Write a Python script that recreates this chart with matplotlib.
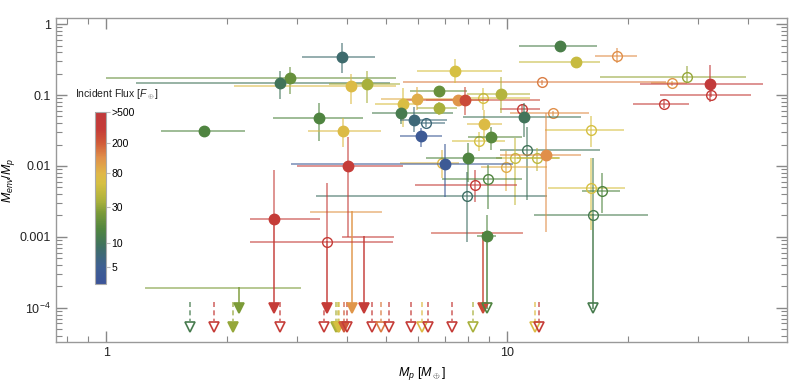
import numpy as np
import matplotlib
matplotlib.use("Agg")
import matplotlib.pyplot as plt
from matplotlib.colors import LinearSegmentedColormap, LogNorm
from matplotlib.ticker import FixedLocator, FuncFormatter, NullFormatter
import matplotlib.colorbar as mcolorbar

plt.rcParams['font.family'] = ['Liberation Sans', 'DejaVu Sans']
plt.rcParams['mathtext.fontset'] = 'custom'
plt.rcParams['mathtext.rm'] = 'Liberation Sans'
plt.rcParams['mathtext.it'] = 'Liberation Sans:italic'

# detections (filled circles)
det_m = [1.75, 2.88, 2.71, 3.87, 4.08, 4.47, 7.43, 6.76, 9.66, 5.49, 5.96, 7.56, 7.86,
         6.78, 5.43, 5.86, 3.40, 3.90, 6.10, 8.78, 9.11, 11.03, 13.56, 14.89, 32.17,
         12.49, 8.00, 4.02, 7.00, 2.63, 8.90]
det_m_lo = [1.37, 1.00, 1.19, 3.09, 2.08, 3.60, 5.95, 5.73, 7.93, 4.70, 4.84, 6.30, 5.59,
            5.95, 4.60, 5.41, 2.61, 3.19, 5.41, 7.93, 8.00, 7.77, 10.73, 10.73, 21.47,
            9.60, 6.30, 3.00, 2.90, 2.28, 8.40]
det_m_hi = [2.22, 5.28, 5.10, 4.68, 5.30, 5.40, 9.70, 7.93, 11.41, 6.10, 7.49, 9.00, 12.10,
            7.49, 7.33, 7.07, 4.38, 4.84, 6.87, 9.70, 10.90, 15.30, 16.80, 17.07, 43.62,
            15.30, 9.70, 5.50, 10.35, 3.41, 9.40]
det_f = [0.0313, 0.175, 0.149, 0.339, 0.135, 0.141, 0.219, 0.1135, 0.105, 0.0752, 0.0867,
         0.0839, 0.0839, 0.0647, 0.0561, 0.0443, 0.0477, 0.031, 0.0266, 0.0389, 0.0257,
         0.0483, 0.494, 0.288, 0.144, 0.0142, 0.013, 0.00993, 0.0106, 0.00176, 0.00103]
det_f_lo = [0.0275, 0.105, 0.0875, 0.202, 0.0744, 0.0769, 0.146, 0.0944, 0.055, 0.0356,
            0.0612, 0.070, 0.0521, 0.0521, 0.0389, 0.0303, 0.0226, 0.0186, 0.0186, 0.0231,
            0.0167, 0.0257, 0.46, 0.27, 0.0802, 0.00118, 0.006, 0.001, 0.00366, 0.00176,
            0.00103]
det_f_hi = [0.0356, 0.25, 0.217, 0.534, 0.197, 0.217, 0.318, 0.131, 0.181, 0.125, 0.131,
            0.10, 0.128, 0.0802, 0.0769, 0.0682, 0.0762, 0.0468, 0.0341, 0.0612, 0.0356,
            0.0769, 0.53, 0.31, 0.264, 0.055, 0.021, 0.0257, 0.0203, 0.00873, 0.002]
det_flux = [15, 20, 10, 8, 70, 35, 60, 20, 40, 65, 90, 120, 250, 35, 12, 7, 15, 70, 4, 70,
            17, 10, 13, 50, 400, 130, 15, 300, 4, 300, 15]

# open circles
opn_m = [6.30, 8.73, 10.88, 12.25, 13.05, 18.82, 16.18, 11.20, 10.47, 11.86, 9.94, 8.50,
         6.87, 8.35, 8.97, 7.96, 16.18, 17.29, 24.61, 25.85, 28.13, 32.36, 3.55, 16.39]
opn_m_lo = [5.90, 8.00, 9.60, 5.50, 10.17, 16.58, 12.44, 9.60, 9.40, 10.60, 8.60, 7.30,
            5.40, 5.90, 6.90, 3.34, 12.66, 15.37, 20.66, 22.90, 17.07, 24.09, 2.28, 11.70]
opn_m_hi = [7.00, 11.40, 12.10, 24.90, 16.05, 21.10, 19.59, 17.07, 13.60, 13.50, 12.60,
            9.90, 7.60, 10.57, 10.90, 12.60, 19.70, 19.14, 28.51, 28.10, 39.42, 40.64,
            5.20, 22.44]
opn_f = [0.0406, 0.0914, 0.0627, 0.152, 0.055, 0.354, 0.0317, 0.0167, 0.0128, 0.0128,
         0.0097, 0.0224, 0.0111, 0.00536, 0.0065, 0.00375, 0.00482, 0.00441, 0.0744,
         0.146, 0.179, 0.0997, 0.000834, 0.00202]
opn_f_lo = [0.035, 0.0612, 0.055, 0.14, 0.05, 0.279, 0.0186, 0.0033, 0.0028, 0.0085,
            0.0045, 0.016, 0.0067, 0.0031, 0.0025, 0.00085, 0.00124, 0.0022, 0.066, 0.135,
            0.146, 0.0944, 0.000834, 0.00202]
opn_f_hi = [0.046, 0.125, 0.072, 0.165, 0.06, 0.454, 0.0504, 0.0356, 0.025, 0.018, 0.016,
            0.03, 0.0167, 0.0087, 0.0103, 0.00826, 0.0128, 0.0079, 0.085, 0.16, 0.261,
            0.117, 0.0057, 0.0128]
opn_flux = [7, 60, 300, 150, 130, 130, 60, 10, 50, 45, 90, 60, 80, 300, 15, 9, 60, 15,
            300, 120, 30, 300, 300, 12]

# upper limits without a marker (horizontal bar + arrow)
lim_m = [2.15, 4.10, 4.40, 8.73]
lim_m_lo = [1.256, 3.24, 3.90, 6.50]
lim_m_hi = [3.04, 4.84, 5.19, 10.90]
lim_f = [0.000187, 0.00225, 0.00098, 0.00115]
lim_flux = [25, 120, 300, 250]

# solid arrows down to 1e-4
arr_m = [2.15, 2.63, 3.55, 4.10, 4.40, 8.73, 8.90, 16.39]
arr_top = [0.000187, 0.00176, 0.000834, 0.00225, 0.00098, 0.00115, 0.00103, 0.00202]
arr_flux = [25, 300, 300, 120, 300, 250, 15, 12]
arr_open = [0, 0, 0, 0, 0, 0, 1, 1]
arr_end = 1.0e-4

# limits below the plotted range (dashed arrows)
dash_m = [1.62, 1.86, 2.07, 2.71, 3.50, 3.74, 3.78, 3.82, 3.93, 4.00, 4.60, 4.84, 5.08,
          5.76, 6.13, 6.34, 7.30, 8.24, 11.73, 12.04]
dash_flux = [12, 300, 30, 300, 300, 35, 45, 60, 200, 300, 300, 150, 300, 300, 70, 300,
             300, 35, 70, 300]
dash_open = [1, 1, 0, 1, 1, 0, 0, 0, 0, 1, 1, 1, 1, 1, 1, 1, 1, 1, 1, 1]
dash_top, dash_bot = 1.21e-4, 5.4e-5

cb_ticks = [5, 10, 30, 80, 200, 500]
cb_labels = ['5', '10', '30', '80', '200', '>500']

cmap = LinearSegmentedColormap.from_list('flux', [
    (0.00, '#3b5499'), (0.10, '#3e5f92'), (0.19, '#3e6b6e'), (0.235, '#41745a'),
    (0.314, '#4f8440'), (0.413, '#7a9a38'), (0.478, '#a8b03c'), (0.584, '#d6c042'),
    (0.64, '#e0b848'), (0.735, '#e0904a'), (0.82, '#d05a38'), (0.90, '#c53c38'),
    (1.00, '#c0393b')])
norm = LogNorm(vmin=3, vmax=500)


def col(fl, a=1.0):
    c = list(cmap(norm(min(fl, 500))))
    c[3] = a
    return tuple(c)


fig = plt.figure(figsize=(7.89, 3.84), dpi=100)
ax = fig.add_axes([0.071, 0.109, 0.9265, 0.845])

ea = 0.55
for m, lo, hi, f, fl in zip(lim_m, lim_m_lo, lim_m_hi, lim_f, lim_flux):
    ax.plot([lo, hi], [f, f], color=col(fl, ea), lw=1.4, zorder=1)

for m, top, fl, op in zip(arr_m, arr_top, arr_flux, arr_open):
    ax.plot([m, m], [top, arr_end], color=col(fl, 0.75), lw=1.4, zorder=1)
    ax.plot(m, arr_end, marker='v', ms=7, color=col(fl),
            mfc='none' if op else col(fl), mew=1.2, zorder=3)

for m, fl, op in zip(dash_m, dash_flux, dash_open):
    ax.plot([m, m], [dash_top, dash_bot * 1.2], color=col(fl, 0.75), lw=1.2,
            ls=(0, (3, 2)), zorder=1)
    ax.plot(m, dash_bot, marker='v', ms=7, color=col(fl),
            mfc='none' if op else col(fl), mew=1.2, zorder=3)

for m, lo, hi, f, flo, fhi, fl in zip(opn_m, opn_m_lo, opn_m_hi, opn_f, opn_f_lo,
                                      opn_f_hi, opn_flux):
    ax.errorbar(m, f, xerr=[[m - lo], [hi - m]], yerr=[[f - flo], [fhi - f]], fmt='o',
                ms=7, mfc='none', mec=col(fl), mew=1.0, ecolor=col(fl, ea),
                elinewidth=1.4, capsize=0, zorder=2)

for m, lo, hi, f, flo, fhi, fl in zip(det_m, det_m_lo, det_m_hi, det_f, det_f_lo,
                                      det_f_hi, det_flux):
    ax.errorbar(m, f, xerr=[[m - lo], [hi - m]], yerr=[[f - flo], [fhi - f]], fmt='o',
                ms=7.5, mfc=col(fl), mec=col(fl), ecolor=col(fl, ea),
                elinewidth=1.4, capsize=0, zorder=4)

ax.set_xscale('log')
ax.set_yscale('log')
ax.set_xlim(0.75, 50)
ax.set_ylim(3.27e-5, 1.235)

ax.xaxis.set_major_locator(FixedLocator([1, 10]))
ax.xaxis.set_minor_locator(FixedLocator([0.8, 0.9, 2, 3, 4, 5, 6, 7, 8, 9, 20, 30, 40]))
ax.xaxis.set_major_formatter(FuncFormatter(lambda v, p: '%d' % v))
ax.xaxis.set_minor_formatter(NullFormatter())

ymaj = [1e-4, 1e-3, 1e-2, 1e-1, 1]
ylab = {1e-4: r'$10^{-4}$', 1e-3: '0.001', 1e-2: '0.01', 1e-1: '0.1', 1: '1'}
ax.yaxis.set_major_locator(FixedLocator(ymaj))
ax.yaxis.set_minor_locator(FixedLocator(
    [k * 10.0 ** e for e in range(-5, 1) for k in range(2, 10)]))
ax.yaxis.set_major_formatter(FuncFormatter(
    lambda v, p: min(ylab.items(), key=lambda kv: abs(np.log10(kv[0]) - np.log10(v)))[1]))
ax.yaxis.set_minor_formatter(NullFormatter())

ax.tick_params(which='both', direction='in', top=True, right=True, color='#888888',
               labelsize=9, labelcolor='#222222')
ax.tick_params(which='major', length=8, width=1)
ax.tick_params(which='minor', length=4, width=0.8)
for s in ax.spines.values():
    s.set_color('#999999')
    s.set_linewidth(1.0)

ax.set_xlabel(r'$M_p$ [$M_\oplus$]', fontsize=9, labelpad=4)
ax.set_ylabel(r'$M_{env}/M_p$', fontsize=9, labelpad=2)

cax = fig.add_axes([0.1204, 0.2604, 0.0139, 0.4484])
cb = mcolorbar.ColorbarBase(cax, cmap=cmap, norm=norm, orientation='vertical')
cb.set_ticks(cb_ticks)
cb.set_ticklabels(cb_labels)
cb.ax.minorticks_off()
cb.ax.tick_params(labelsize=7.5, length=3, color='#bbbbbb', pad=1)
cb.outline.set_edgecolor('#aaaaaa')
cb.outline.set_linewidth(0.8)
fig.text(0.095, 0.752, r'Incident Flux [$F_\oplus$]', fontsize=7.5, color='#222222',
         va='center')

fig.savefig('out.png', dpi=100)
